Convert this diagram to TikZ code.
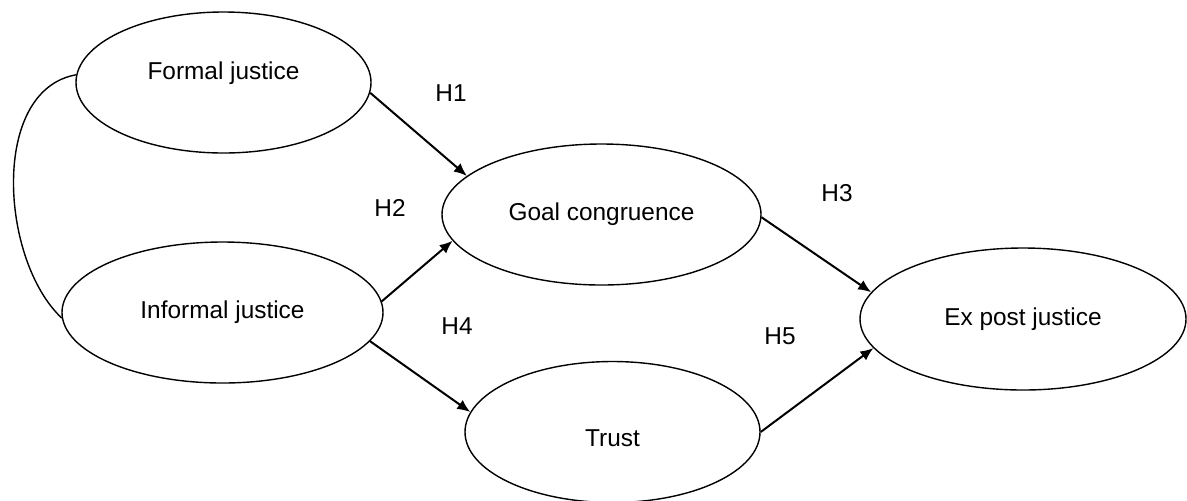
\documentclass[tikz,border=0pt]{standalone}
\usepackage{fontspec}
\setmainfont{Liberation Sans}
\usetikzlibrary{shapes.geometric,% ellipse nodes
arrows.meta}%                      filled arrow tips
\tikzset{every node/.style={font=\fontsize{12.2}{14}\selectfont},
  construct/.style={draw,ellipse,inner sep=0pt,line width=0.7pt},
  hyp/.style={-{Latex[length=6.5pt,width=5.5pt]},line width=1pt}}

\begin{document}
\begin{tikzpicture}[x=0.5pt,y=-0.5pt]
  \useasboundingbox (0,0) rectangle (1187,500);
  \node[construct,minimum width=147.5pt,minimum height=70.5pt,text depth=11.5pt] (formal) at (223.5,82.5) {Formal justice};
  \node[construct,minimum width=160.5pt,minimum height=70.5pt] (informal) at (222.5,312.5) {Informal justice};
  \node[construct,minimum width=159.5pt,minimum height=70.5pt] (goal) at (601.5,214.5) {Goal congruence};
  \node[construct,minimum width=147.5pt,minimum height=70.5pt,text height=14.5pt] (trust) at (612.5,432) {Trust};
  \node[construct,minimum width=163pt,minimum height=71pt] (expost) at (1023,319) {Ex post justice};
  \draw[line width=0.7pt] (formal.177) .. controls (-10,90) and (0,260) .. (informal.182);
  \draw[hyp] (formal.-4) -- (goal.164);
  \draw[hyp] (informal.4) -- (goal.190);
  \draw[hyp] (informal.-11) -- (trust.172);
  \draw[hyp] (goal.-1) -- (expost.170);
  \draw[hyp] (trust.0) -- (expost.191);
  \node (h1) at (451,93) {H1};
  \node (h2) at (390,208) {H2};
  \node (h3) at (837,193) {H3};
  \node (h4) at (457,326) {H4};
  \node (h5) at (780,336) {H5};
\end{tikzpicture}
\end{document}
